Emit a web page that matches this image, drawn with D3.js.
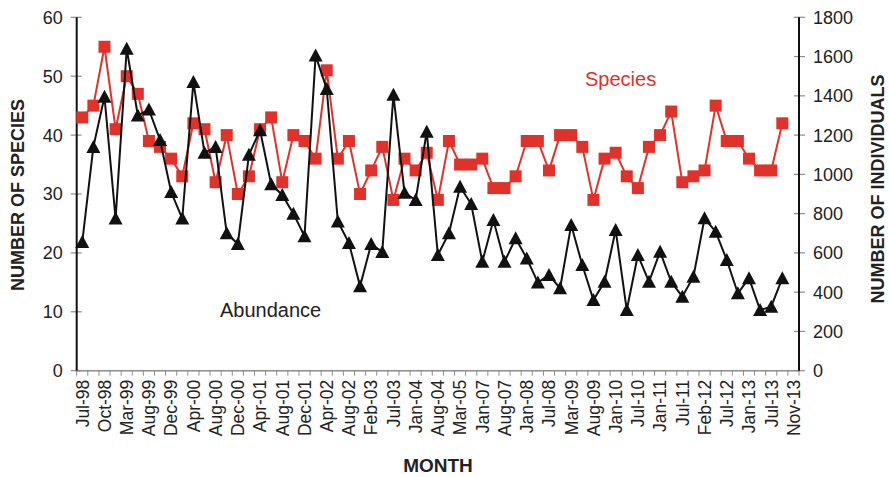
<!DOCTYPE html>
<html>
<head>
<meta charset="utf-8">
<script src="https://cdn.jsdelivr.net/npm/d3@7"></script>
<style>
  body { margin: 0; background: #fff; }
  svg { display: block; font-family: "Liberation Sans", Arial, sans-serif; }
</style>
</head>
<body>
<svg id="chart"></svg>
<script>
// labels under every second sampling slot
const tickLabels = ['Jul-98', 'Oct-98', 'Mar-99', 'Aug-99', 'Dec-99', 'Apr-00', 'Aug-00', 'Dec-00',
    'Apr-01', 'Aug-01', 'Dec-01', 'Apr-02', 'Aug-02', 'Feb-03', 'Jul-03', 'Jan-04', 'Aug-04',
    'Mar-05', 'Jan-07', 'Aug-07', 'Jan-08', 'Jul-08', 'Mar-09', 'Aug-09', 'Jan-10', 'Jul-10',
    'Jan-11', 'Jul-11', 'Feb-12', 'Jul-12', 'Jan-13', 'Jul-13', 'Nov-13'];

// number of species per sample
const species = [43, 45, 55, 41, 50, 47, 39, 38, 36, 33,
    42, 41, 32, 40, 30, 33, 41, 43, 32, 40,
    39, 36, 51, 36, 39, 30, 34, 38, 29, 36,
    34, 37, 29, 39, 35, 35, 36, 31, 31, 33,
    39, 39, 34, 40, 40, 38, 29, 36, 37, 33,
    31, 38, 40, 44, 32, 33, 34, 45, 39, 39,
    36, 34, 34, 42];

// number of individuals per sample
const abundance = [655, 1140, 1395, 775, 1640, 1300, 1330, 1175, 910, 775,
    1470, 1110, 1140, 700, 645, 1100, 1225, 950, 895, 800,
    685, 1605, 1435, 760, 650, 430, 645, 605, 1405, 907,
    869, 1217, 589, 700, 937, 849, 555, 767, 555, 674,
    572, 449, 487, 420, 742, 538, 360, 453, 717, 309,
    589, 453, 606, 453, 377, 479, 776, 708, 564, 394,
    471, 309, 326, 471];

const leftTicks = [0, 10, 20, 30, 40, 50, 60];
const rightTicks = [0, 200, 400, 600, 800, 1000, 1200, 1400, 1600, 1800];

const nSlots = tickLabels.length * 2 - 1;
const red = '#e0322a';
const black = '#111';

const width = 889, height = 477;
const margin = { top: 17.3, right: 90, bottom: 106.3, left: 76.7 };
const plotW = width - margin.left - margin.right;
const plotH = height - margin.top - margin.bottom;

const svg = d3.select('#chart')
    .attr('width', width)
    .attr('height', height);

const g = svg.append('g')
    .attr('transform', `translate(${margin.left},${margin.top})`);

const x = d3.scaleBand()
    .domain(d3.range(nSlots))
    .range([0, plotW])
    .paddingInner(0)
    .paddingOuter(0);

const cx = i => x(i) + x.bandwidth() / 2;

const yLeft = d3.scaleLinear().domain([0, 60]).range([plotH, 0]);
const yRight = d3.scaleLinear().domain([0, 1800]).range([plotH, 0]);

// bottom axis: gray line, ticks at slot boundaries
const bottom = g.append('g').attr('transform', `translate(0,${plotH})`);
bottom.append('line')
    .attr('x1', 0).attr('x2', plotW)
    .attr('stroke', '#8c8c8c').attr('stroke-width', 1.5);
bottom.selectAll('line.tick')
    .data(d3.range(nSlots + 1))
    .enter()
    .append('line')
    .attr('class', 'tick')
    .attr('x1', d => d * x.step()).attr('x2', d => d * x.step())
    .attr('y1', 0).attr('y2', 5)
    .attr('stroke', '#8c8c8c').attr('stroke-width', 1);
bottom.selectAll('text')
    .data(tickLabels)
    .enter()
    .append('text')
    .attr('transform', (d, i) => `translate(${cx(i * 2)},9) rotate(-90)`)
    .attr('text-anchor', 'end')
    .attr('dy', '0.36em')
    .attr('font-size', '17.5px')
    .attr('fill', '#222')
    .text(d => d);

// left axis
const leftAxis = g.append('g');
leftAxis.selectAll('line.tick')
    .data(leftTicks)
    .enter()
    .append('line')
    .attr('class', 'tick')
    .attr('x1', -6).attr('x2', 5)
    .attr('y1', d => yLeft(d)).attr('y2', d => yLeft(d))
    .attr('stroke', '#8c8c8c').attr('stroke-width', 1.2);
leftAxis.append('line')
    .attr('y1', 0).attr('y2', plotH)
    .attr('stroke', black).attr('stroke-width', 2);
leftAxis.selectAll('text')
    .data(leftTicks)
    .enter()
    .append('text')
    .attr('x', -14)
    .attr('y', d => yLeft(d))
    .attr('dy', '0.36em')
    .attr('text-anchor', 'end')
    .attr('font-size', '18px')
    .attr('fill', '#222')
    .text(d => d);

// right axis
const rightAxis = g.append('g').attr('transform', `translate(${plotW},0)`);
rightAxis.selectAll('line.tick')
    .data(rightTicks)
    .enter()
    .append('line')
    .attr('class', 'tick')
    .attr('x1', -5).attr('x2', 6)
    .attr('y1', d => yRight(d)).attr('y2', d => yRight(d))
    .attr('stroke', '#8c8c8c').attr('stroke-width', 1.2);
rightAxis.append('line')
    .attr('y1', 0).attr('y2', plotH)
    .attr('stroke', black).attr('stroke-width', 2);
rightAxis.selectAll('text')
    .data(rightTicks)
    .enter()
    .append('text')
    .attr('x', 14)
    .attr('y', d => yRight(d))
    .attr('dy', '0.36em')
    .attr('font-size', '18px')
    .attr('fill', '#222')
    .text(d => d);

// axis titles
svg.append('text')
    .attr('transform', `translate(24,195) rotate(-90)`)
    .attr('text-anchor', 'middle')
    .attr('font-size', '18px')
    .attr('font-weight', 'bold')
    .attr('fill', '#222')
    .text('NUMBER OF SPECIES');

svg.append('text')
    .attr('transform', `translate(884,189) rotate(-90)`)
    .attr('text-anchor', 'middle')
    .attr('font-size', '18px')
    .attr('font-weight', 'bold')
    .attr('fill', '#222')
    .text('NUMBER OF INDIVIDUALS');

svg.append('text')
    .attr('x', 438)
    .attr('y', 472)
    .attr('text-anchor', 'middle')
    .attr('font-size', '19px')
    .attr('font-weight', 'bold')
    .attr('fill', '#222')
    .text('MONTH');

// species series
const speciesLine = d3.line()
    .defined(d => d != null)
    .x((d, i) => cx(i))
    .y(d => yLeft(d));

g.append('path')
    .datum(species)
    .attr('d', speciesLine)
    .attr('fill', 'none')
    .attr('stroke', red)
    .attr('stroke-width', 2);

g.selectAll('rect.species')
    .data(species)
    .enter()
    .append('rect')
    .attr('class', 'species')
    .attr('x', (d, i) => cx(i) - 6)
    .attr('y', d => yLeft(d) - 6)
    .attr('width', 12)
    .attr('height', 12)
    .attr('fill', red);

// abundance series
const abundanceLine = d3.line()
    .x((d, i) => cx(i))
    .y(d => yRight(d));

g.append('path')
    .datum(abundance)
    .attr('d', abundanceLine)
    .attr('fill', 'none')
    .attr('stroke', black)
    .attr('stroke-width', 2);

g.selectAll('path.abundance')
    .data(abundance)
    .enter()
    .append('path')
    .attr('class', 'abundance')
    .attr('transform', (d, i) => `translate(${cx(i)},${yRight(d)})`)
    .attr('d', 'M0,-7L7,6L-7,6Z')
    .attr('fill', black);

// series labels
svg.append('text')
    .attr('x', 585)
    .attr('y', 86)
    .attr('font-size', '20px')
    .attr('fill', red)
    .text('Species');

svg.append('text')
    .attr('x', 220)
    .attr('y', 317)
    .attr('font-size', '20px')
    .attr('fill', '#222')
    .text('Abundance');
</script>
</body>
</html>
